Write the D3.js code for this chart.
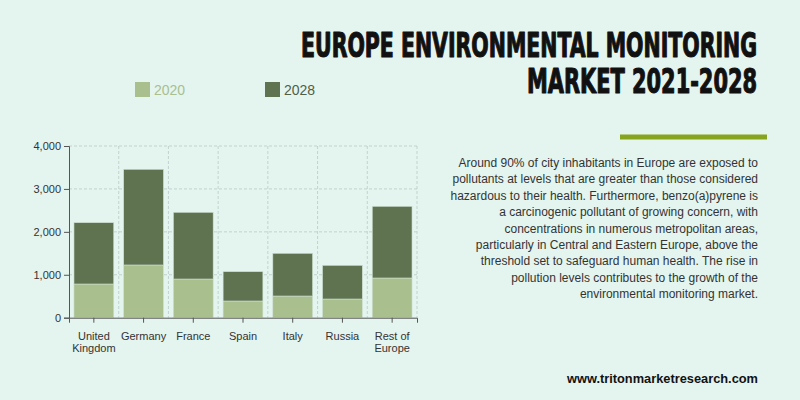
<!DOCTYPE html>
<html>
<head>
<meta charset="utf-8">
<script src="https://cdn.jsdelivr.net/npm/d3@7"></script>
<style>
  body { margin: 0; background: #e4f4ef; }
  svg { display: block; font-family: "Liberation Sans", Arial, sans-serif; }
</style>
</head>
<body>
<div id="chart"></div>
<script>
// data
var countries = ["United Kingdom", "Germany", "France", "Spain", "Italy", "Russia", "Rest of Europe"];
var labelLines = [["United", "Kingdom"], ["Germany"], ["France"], ["Spain"], ["Italy"], ["Russia"], ["Rest of", "Europe"]];
var values2020 = [785, 1228, 901, 389, 505, 435, 925];
var values2028 = [1428, 2229, 1554, 683, 995, 785, 1670];
var yTicks = [0, 1000, 2000, 3000, 4000];
var seriesNames = ["2020", "2028"];
var seriesColors = ["#a9bf8e", "#5f7350"];

var width = 800;
var height = 400;

var svg = d3.select("#chart")
    .append("svg")
    .attr("width", width)
    .attr("height", height);

svg.append("rect")
    .attr("width", width)
    .attr("height", height)
    .attr("fill", "#e4f4ef");

// chart area
var plotLeft = 69, plotRight = 417, plotTop = 146, plotBottom = 317.7;

var xScale = d3.scaleBand()
    .domain(countries)
    .range([plotLeft, plotRight])
    .paddingInner(0.2)
    .paddingOuter(0.1);

var yScale = d3.scaleLinear()
    .domain([0, 4000])
    .range([plotBottom, plotTop]);

// grid
var step = xScale.step();
var grid = svg.append("g").attr("class", "grid");
grid.selectAll("line.h")
    .data(yTicks.slice(1))
    .enter()
    .append("line")
    .attr("x1", plotLeft)
    .attr("x2", plotRight)
    .attr("y1", function(d) { return yScale(d); })
    .attr("y2", function(d) { return yScale(d); })
    .attr("stroke", "#b9ccc6")
    .attr("stroke-dasharray", "3,2")
    .attr("stroke-width", 0.8);
grid.selectAll("line.v")
    .data(d3.range(1, countries.length + 1))
    .enter()
    .append("line")
    .attr("x1", function(i) { return plotLeft + i * step; })
    .attr("x2", function(i) { return plotLeft + i * step; })
    .attr("y1", plotTop)
    .attr("y2", plotBottom)
    .attr("stroke", "#b9ccc6")
    .attr("stroke-dasharray", "3,2")
    .attr("stroke-width", 0.8);

// stacked bars
var rows = countries.map(function(c, i) {
    return { country: c, "2020": values2020[i], "2028": values2028[i] };
});
var stacked = d3.stack().keys(seriesNames)(rows);

svg.selectAll("g.layer")
    .data(stacked)
    .enter()
    .append("g")
    .attr("class", "layer")
    .attr("fill", function(d, i) { return seriesColors[i]; })
    .selectAll("rect")
    .data(function(d) { return d; })
    .enter()
    .append("rect")
    .attr("x", function(d) { return xScale(d.data.country); })
    .attr("width", xScale.bandwidth())
    .attr("y", function(d) { return yScale(d[1]); })
    .attr("height", function(d) { return yScale(d[0]) - yScale(d[1]); })
    .attr("stroke", "#cfe0d2")
    .attr("stroke-width", 0.6);

// y axis
var yAxis = svg.append("g")
    .attr("transform", "translate(" + plotLeft + ",0)")
    .call(d3.axisLeft(yScale).tickValues(yTicks).tickSize(5).tickFormat(d3.format(",")));
yAxis.select(".domain").attr("stroke", "#555");
yAxis.selectAll(".tick line").attr("stroke", "#555");
yAxis.selectAll("text").attr("font-size", 11).attr("fill", "#333")
    .attr("font-family", "Liberation Sans, Arial, sans-serif");

// x axis
var xAxis = svg.append("g")
    .attr("transform", "translate(0," + plotBottom + ")")
    .call(d3.axisBottom(xScale).tickSize(5).tickFormat(""));
xAxis.select(".domain").attr("stroke", "#555");
xAxis.selectAll(".tick line").attr("stroke", "#555");

svg.append("g").selectAll("text")
    .data(countries)
    .enter()
    .append("text")
    .attr("x", function(d) { return xScale(d) + xScale.bandwidth() / 2; })
    .attr("y", 339.5)
    .attr("text-anchor", "middle")
    .attr("font-size", 11)
    .attr("fill", "#333")
    .each(function(d, i) {
        var t = d3.select(this);
        labelLines[i].forEach(function(line, j) {
            t.append("tspan")
                .attr("x", xScale(d) + xScale.bandwidth() / 2)
                .attr("dy", j === 0 ? 0 : 12.5)
                .text(line);
        });
    });

// legend
var legendX = [135, 265];
var legend = svg.selectAll("g.legend")
    .data(seriesNames)
    .enter()
    .append("g")
    .attr("class", "legend")
    .attr("transform", function(d, i) { return "translate(" + legendX[i] + ",82)"; });
legend.append("rect")
    .attr("width", 15)
    .attr("height", 15)
    .attr("fill", function(d, i) { return seriesColors[i]; });
legend.append("text")
    .attr("x", 19)
    .attr("y", 13)
    .attr("font-size", 14)
    .attr("fill", function(d, i) { return i === 0 ? "#a9bf8e" : "#4f5f45"; })
    .text(function(d) { return d; });

// title
var title = svg.append("g").attr("font-family", "DejaVu Sans Condensed, DejaVu Sans, sans-serif")
    .attr("font-weight", "bold").attr("fill", "#111")
    .attr("stroke", "#111").attr("stroke-width", 1.1).attr("stroke-linejoin", "round");
title.append("text")
    .attr("x", 757).attr("y", 57)
    .attr("text-anchor", "end")
    .attr("font-size", 33)
    .attr("textLength", 456)
    .attr("lengthAdjust", "spacingAndGlyphs")
    .text("EUROPE ENVIRONMENTAL MONITORING");
title.append("text")
    .attr("x", 757).attr("y", 93)
    .attr("text-anchor", "end")
    .attr("font-size", 33)
    .attr("textLength", 230)
    .attr("lengthAdjust", "spacingAndGlyphs")
    .text("MARKET 2021-2028");

svg.append("rect")
    .attr("x", 620).attr("y", 134.5)
    .attr("width", 147).attr("height", 5)
    .attr("fill", "#86a41c");

// paragraph
var para = [
    "Around 90% of city inhabitants in Europe are exposed to",
    "pollutants at levels that are greater than those considered",
    "hazardous to their health. Furthermore, benzo(a)pyrene is",
    "a carcinogenic pollutant of growing concern, with",
    "concentrations in numerous metropolitan areas,",
    "particularly in Central and Eastern Europe, above the",
    "threshold set to safeguard human health. The rise in",
    "pollution levels contributes to the growth of the",
    "environmental monitoring market."
];
svg.append("g").selectAll("text")
    .data(para)
    .enter()
    .append("text")
    .attr("x", 758)
    .attr("y", function(d, i) { return 167 + i * 16.4; })
    .attr("text-anchor", "end")
    .attr("font-size", 12)
    .attr("fill", "#333")
    .text(function(d) { return d; });

svg.append("text")
    .attr("x", 758).attr("y", 383)
    .attr("text-anchor", "end")
    .attr("font-size", 13)
    .attr("font-weight", "bold")
    .attr("fill", "#111")
    .attr("textLength", 191)
    .attr("lengthAdjust", "spacingAndGlyphs")
    .text("www.tritonmarketresearch.com");
</script>
</body>
</html>
